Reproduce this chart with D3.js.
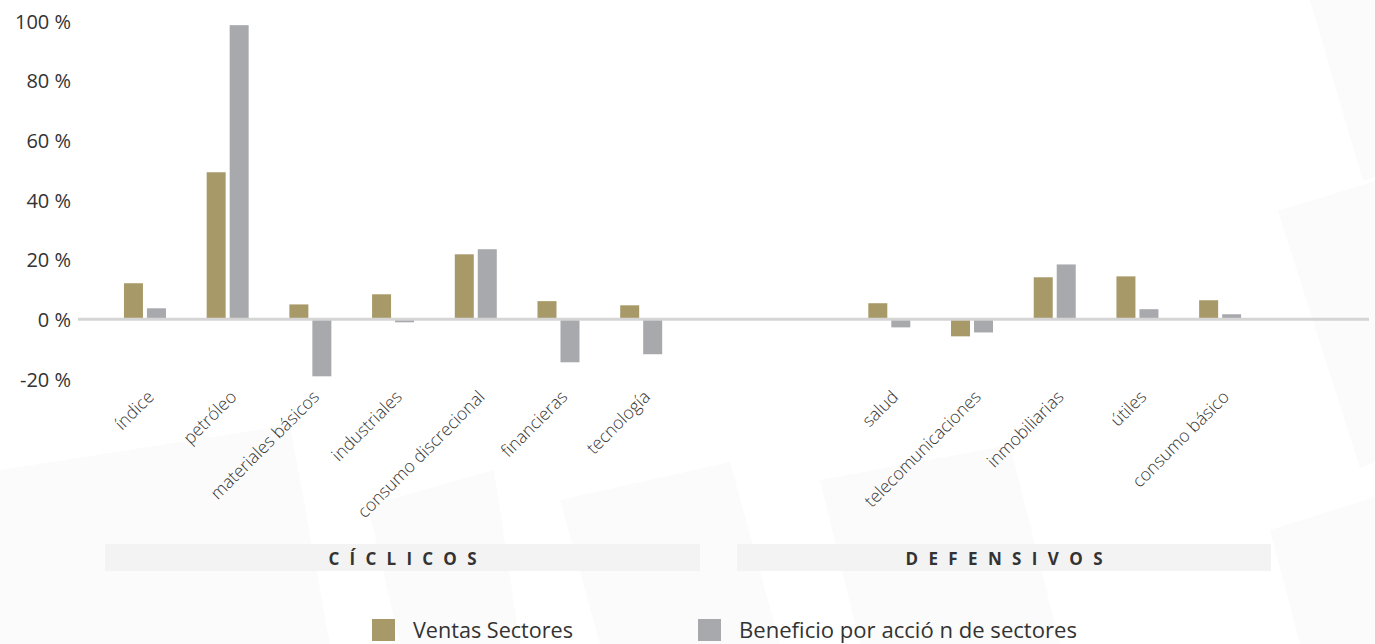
<!DOCTYPE html>
<html lang="es">
<head>
<meta charset="utf-8">
<title>Ventas y beneficio por acción por sector</title>
<script src="https://cdn.jsdelivr.net/npm/d3@7/dist/d3.min.js"></script>
<style>
  html, body { margin: 0; padding: 0; background: #ffffff; }
  svg { display: block; }
  text { font-family: "Open Sans", "Noto Sans", sans-serif; fill: #333333; }
</style>
</head>
<body>
<svg id="chart" width="1375" height="644"></svg>
<script>
// Sector groups
const cyclicalSectors = ["índice", "petróleo", "materiales básicos", "industriales",
  "consumo discrecional", "financieras", "tecnología"];
const defensiveSectors = ["salud", "telecomunicaciones", "inmobiliarias", "útiles", "consumo básico"];

// Series (percent change)
const seriesNames = ["Ventas Sectores", "Beneficio por acció n de sectores"];
const salesCyclical = [12.1, 49.3, 5.0, 8.4, 21.8, 6.1, 4.7];
const epsCyclical = [3.7, 98.6, -19.1, -1.0, 23.5, -14.4, -11.7];
const salesDefensive = [5.4, -5.7, 14.1, 14.4, 6.4];
const epsDefensive = [-2.7, -4.4, 18.4, 3.4, 1.7];

// Axis ticks and group labels
const yTicks = [-20, 0, 20, 40, 60, 80, 100];
const groupLabels = ["CÍCLICOS", "DEFENSIVOS"];

const colors = ["#a89a68", "#a8a9ad"];

const svg = d3.select("#chart");

// faint background facets
const facets = [
  [[1310, 0], [1375, 0], [1375, 177], [1363, 181]],
  [[1278, 211], [1375, 181], [1375, 462], [1360, 468]],
  [[1270, 530], [1375, 497], [1375, 644], [1300, 644]],
  [[0, 470], [290, 425], [330, 644], [0, 644]],
  [[368, 506], [494, 470], [520, 644], [400, 644]],
  [[560, 500], [730, 462], [780, 644], [600, 644]],
  [[820, 480], [1010, 445], [1060, 644], [860, 644]]
];
svg.append("g").selectAll("polygon")
  .data(facets)
  .join("polygon")
  .attr("points", d => d.map(p => p.join(",")).join(" "))
  .attr("fill", "#fbfbfb");

// data rows with gap slots between the two sector groups
const rows = [
  ...cyclicalSectors.map((c, i) => ({ key: c, label: c, values: [salesCyclical[i], epsCyclical[i]] })),
  { key: "_gap1", label: "", values: [] },
  { key: "_gap2", label: "", values: [] },
  ...defensiveSectors.map((c, i) => ({ key: c, label: c, values: [salesDefensive[i], epsDefensive[i]] })),
  { key: "_end", label: "", values: [] }
];

const x = d3.scaleBand()
  .domain(rows.map(r => r.key))
  .range([103.6, 1344.2])
  .padding(0);

const x1 = d3.scaleBand()
  .domain(seriesNames)
  .range([-21, 21])
  .paddingInner(4 / 23)
  .paddingOuter(0);

const y = d3.scaleLinear()
  .domain([-20, 100])
  .range([379, 21]);

// y axis labels
const yAxis = svg.append("g")
  .attr("transform", "translate(71,0)")
  .call(d3.axisLeft(y).tickValues(yTicks).tickSize(0).tickPadding(0)
    .tickFormat(d => d + " %"));
yAxis.select(".domain").remove();
yAxis.selectAll("text")
  .attr("font-size", 20)
  .attr("font-family", "'Open Sans', sans-serif")
  .attr("fill", "#333333")
  .attr("dy", "0.35em")
  .attr("text-anchor", "end");

// bars
const groups = svg.append("g").selectAll("g")
  .data(rows.filter(r => r.values.length))
  .join("g")
  .attr("transform", d => `translate(${x(d.key) + x.bandwidth() / 2},0)`);

groups.selectAll("rect")
  .data(d => d.values.map((v, i) => ({ name: seriesNames[i], value: v, i })))
  .join("rect")
  .attr("x", d => x1(d.name))
  .attr("width", x1.bandwidth())
  .attr("y", d => y(Math.max(0, d.value)))
  .attr("height", d => Math.abs(y(d.value) - y(0)))
  .attr("fill", d => colors[d.i]);

// zero line
svg.append("line")
  .attr("x1", 78).attr("x2", 1369)
  .attr("y1", y(0)).attr("y2", y(0))
  .attr("stroke", "#d5d5d5")
  .attr("stroke-width", 3);

// category labels
svg.append("g").selectAll("text")
  .data(rows.filter(r => r.label))
  .join("text")
  .attr("transform", d => `translate(${x(d.key) + x.bandwidth() / 2 + 10},398) rotate(-45)`)
  .attr("text-anchor", "end")
  .attr("font-size", 17.5)
  .attr("font-weight", 300)
  .attr("fill", "#222222")
  .text(d => d.label);

// group bands
const bands = [
  { label: groupLabels[0], x0: 105, x1: 700, textWidth: 148 },
  { label: groupLabels[1], x0: 737, x1: 1271, textWidth: 197 }
];
const band = svg.append("g").selectAll("g")
  .data(bands)
  .join("g");
band.append("rect")
  .attr("x", d => d.x0)
  .attr("y", 544)
  .attr("width", d => d.x1 - d.x0)
  .attr("height", 27)
  .attr("fill", "#f3f3f3");
band.append("text")
  .attr("x", d => (d.x0 + d.x1) / 2)
  .attr("y", 565)
  .attr("text-anchor", "middle")
  .attr("font-size", 17)
  .attr("font-weight", 700)
  .attr("fill", "#231f20")
  .attr("textLength", d => d.textWidth)
  .attr("lengthAdjust", "spacing")
  .text(d => d.label);

// legend
const legendItems = [
  { name: seriesNames[0], color: colors[0], x: 372, w: 160 },
  { name: seriesNames[1], color: colors[1], x: 698, w: 338 }
];
const legend = svg.append("g").selectAll("g")
  .data(legendItems)
  .join("g")
  .attr("transform", d => `translate(${d.x},619)`);
legend.append("rect")
  .attr("width", 23)
  .attr("height", 22)
  .attr("fill", d => d.color);
legend.append("text")
  .attr("x", 41)
  .attr("y", 19)
  .attr("font-size", 22)
  .attr("fill", "#333333")
  .attr("textLength", d => d.w)
  .attr("lengthAdjust", "spacingAndGlyphs")
  .text(d => d.name);
</script>
</body>
</html>
